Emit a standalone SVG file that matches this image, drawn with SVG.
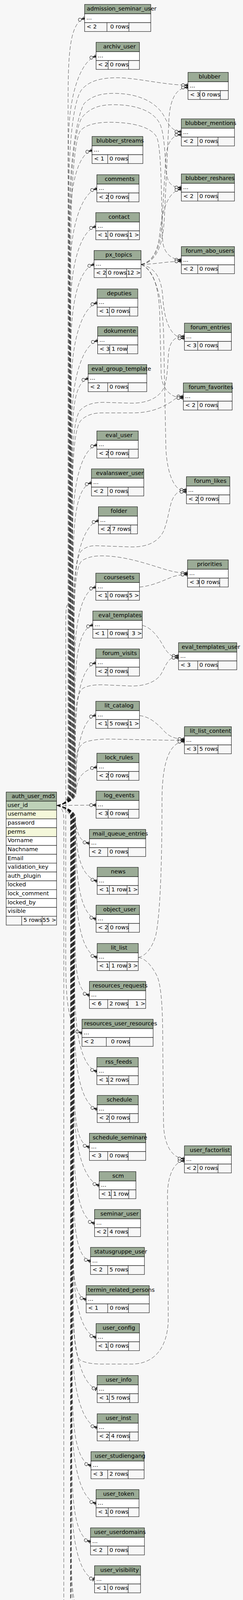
<svg xmlns="http://www.w3.org/2000/svg" width="621" height="4792" viewBox="0 0 621 4792">
<style>
text{font-family:"DejaVu Sans","Liberation Sans",sans-serif;font-size:14.5px;fill:#000}
.r{text-anchor:end}
.hd{fill:#9bab96;stroke:#000;stroke-width:1}
.bd{fill:#fff;stroke:#000;stroke-width:1}
.ft{fill:#f7f7f7;stroke:#000;stroke-width:1}
.pk{fill:#bed1b8;stroke:#000;stroke-width:1}
.ix{fill:#f4f7da;stroke:#000;stroke-width:1}
.dv{fill:none;stroke:#000;stroke-width:1}
#edges path{fill:none;stroke:#000;stroke-width:.7;stroke-dasharray:10 5;marker-end:url(#crow)}
#edges path.zo{marker-end:url(#tee)}
</style>
<defs>
<marker id="crow" markerUnits="userSpaceOnUse" orient="auto" overflow="visible" refX="0" refY="0" markerWidth="20" markerHeight="12" viewBox="-18 -6 20 12">
<path d="M-8.5,0H0M-8.5,0L0,-4.5M-8.5,0L0,4.5" fill="none" stroke="#000" stroke-width="1" stroke-dasharray="none"/>
<path d="M-8.5,0L0,-2.2L0,2.2Z" fill="#000" stroke="none"/>
<circle cx="-12.5" cy="0" r="4" fill="#f7f7f7" stroke="#000" stroke-width="1" stroke-dasharray="none"/>
</marker>
<marker id="tee" markerUnits="userSpaceOnUse" orient="auto" overflow="visible" refX="0" refY="0" markerWidth="20" markerHeight="12" viewBox="-18 -6 20 12">
<path d="M-9,0H0" fill="none" stroke="#000" stroke-width="1" stroke-dasharray="none"/>
<path d="M-3,-5V5" fill="none" stroke="#000" stroke-width="2" stroke-dasharray="none"/>
<circle cx="-9.5" cy="0" r="4" fill="#f7f7f7" stroke="#000" stroke-width="1" stroke-dasharray="none"/>
</marker>
</defs>
<rect x="0" y="0" width="621" height="4792" fill="#f7f7f7"/>

<g id="edges">
<path d="M145,2062C162,2060 174,2050 174,2030L174,266.8C174,146.8 176.2,58.8 216.2,46.8"/>
<path d="M145,2062C162,2060 175.1,2050 175.1,2030L175.1,363.8C175.1,243.8 205.5,155.8 245.5,143.8"/>
<path d="M145,2062C162,2060 175.9,2050 175.9,2030L175.9,500C175.9,350 190,250 210,228C230,206 260,199 300,199C350,199 420,218 480.4,218"/>
<path d="M145,2062C162,2060 177.2,2050 177.2,2030L177.2,560C177.2,420 195,300 215,265C235,245 260,239 290,239C360,239 400,265 418,295C430,318 440,337 463.4,337"/>
<path d="M145,2062C162,2060 177.7,2050 177.7,2030L177.7,604.8C177.7,484.8 195.2,396.8 235.2,384.8"/>
<path d="M145,2062C162,2060 178.7,2050 178.7,2030L178.7,600C178.7,450 190,330 210,300C230,276 255,268 290,268C350,268 395,285 410,320C425,360 420,440 430,462C437,476 448,480 463.4,480"/>
<path d="M145,2062C162,2060 178.8,2050 178.8,2030L178.8,702.8C178.8,582.8 207.5,494.8 247.5,482.8"/>
<path d="M145,2062C162,2060 179.8,2050 179.8,2030L179.8,799.8C179.8,679.8 204.8,591.8 244.8,579.8"/>
<path d="M145,2062C162,2060 180.8,2050 180.8,2030L180.8,650C180.8,480 190,360 205,335C220,318 250,313 280,313C340,313 385,325 400,350C415,380 412,560 416,620C420,650 440,665 463.4,665"/>
<path d="M145,2062C162,2060 180.9,2050 180.9,2030L180.9,896.8C180.9,776.8 200.4,688.8 240.4,676.8"/>
<path d="M145,2062C162,2060 182,2050 182,2030L182,995.2C182,875.2 208.3,787.2 248.3,775.2"/>
<path d="M145,2062C162,2060 183,2050 183,2030L183,1091.8C183,971.8 209.5,883.8 249.5,871.8"/>
<path d="M145,2062C162,2060 184.7,2050 184.7,2030L184.7,1250C184.7,1130 190,1070 205,1050C220,1035 240,1030 265,1030L330,1032C380,1034 410,1015 420,990C430,960 428,920 432,895C437,870 450,861 471.3,861"/>
<path d="M145,2062C162,2060 184.1,2050 184.1,2030L184.1,1188.8C184.1,1068.8 185.3,980.8 225.3,968.8"/>
<path d="M145,2062C162,2060 185,2050 185,2030L185,1280C185,1160 192,1090 208,1075C222,1062 240,1057 260,1057L340,1057C390,1057 420,1040 440,1027C450,1019 455,1015 468.5,1015"/>
<path d="M145,2062C162,2060 185.9,2050 185.9,2030L185.9,1358.8C185.9,1238.8 207.5,1150.8 247.5,1138.8"/>
<path d="M145,2062C162,2060 187,2050 187,2030L187,1455.8C187,1335.8 193.7,1247.8 233.7,1235.8"/>
<path d="M145,2062C162,2060 188.7,2050 188.7,2030L188.7,1600C188.7,1480 195,1425 208,1410C220,1400 230,1397 245,1397L330,1400C380,1402 405,1385 418,1360C430,1330 432,1300 440,1280C448,1262 460,1254 476.4,1254"/>
<path d="M145,2062C162,2060 188,2050 188,2030L188,1552.8C188,1432.8 211.5,1344.8 251.5,1332.8"/>
<path d="M145,2062C162,2060 189,2050 189,2030L189,1620C189,1500 196,1445 210,1435C225,1426 240,1423 260,1423C320,1423 380,1445 420,1457C440,1463 455,1467 479.2,1467"/>
<path d="M145,2062C162,2060 189.9,2050 189.9,2030L189.9,1722.8C189.9,1602.8 204.8,1514.8 244.8,1502.8"/>
<path d="M145,2062C162,2060 191,2050 191,2030L191,1819.8C191,1699.8 197.2,1611.8 237.2,1599.8"/>
<path d="M145,2062C162,2060 192.6,2050 192.6,2030L192.6,1850C192.6,1800 200,1770 212,1762C225,1755 240,1753 260,1753L330,1756C370,1758 400,1745 412,1725C422,1708 430,1679 456.2,1679"/>
<path d="M145,2062C162,2060 192,2050 192,2030L192,1916.8C192,1796.8 204.8,1708.8 244.8,1696.8"/>
<path d="M145,2062C165,2058 193.5,2048 193.5,2015C193.5,1935 204.8,1842.8 244.8,1830.8"/>
<path d="M145,2062C162,2060 194.5,2050 194.5,2030L194.5,1950C194.5,1920 205,1905 220,1899C240,1893 260,1892 280,1892L430,1895C445,1895 458,1895 471.3,1895"/>
<path d="M145,2062C170,2056 194,2040 196,2015C198,1990 215,1970 247.5,1963.8"/>
<path d="M145,2062L245.5,2061"/>
<path d="M145,2062C172,2068 190,2100 197,2125C202,2142 208,2155 228.5,2158.8"/>
<path d="M145,2062C165,2066 194.6,2085 194.6,2120C194.6,2190 208.3,2243.8 248.3,2255.8"/>
<path d="M145,2062C162,2064 193.2,2074 193.2,2094L193.2,2132.8C193.2,2252.8 205.5,2340.8 245.5,2352.8"/>
<path d="M145,2062C162,2064 192.6,2074 192.6,2094L192.6,2230.8C192.6,2350.8 208.3,2438.8 248.3,2450.8"/>
<path d="M145,2062C162,2064 192,2074 192,2094L192,2327.8C192,2447.8 188.5,2535.8 228.5,2547.8"/>
<path d="M145,2062C162,2058 189,2045 189,2020L190,1640C190,1575 178,1540 171,1550C167,1560 168,1600 168,1660L168,2430C168,2545 170,2632 209.5,2644.8"/>
<path d="M145,2062C162,2064 190.9,2074 190.9,2094L190.9,2522.8C190.9,2642.8 207.5,2730.8 247.5,2742.8"/>
<path d="M145,2062C162,2064 190.3,2074 190.3,2094L190.3,2619.8C190.3,2739.8 208.3,2827.8 248.3,2839.8"/>
<path d="M145,2062C162,2064 189.7,2074 189.7,2094L189.7,2716.8C189.7,2836.8 188.5,2924.8 228.5,2936.8"/>
<path d="M145,2062C162,2064 187,2074 187,2094L187,3300C187,3420 192,3470 205,3482C220,3490 240,3492 260,3492L340,3492C395,3490 428,3450 430,3380L428,3060C428,3010 445,2972 471.3,2972"/>
<path d="M145,2062C162,2064 189.1,2074 189.1,2094L189.1,2814.8C189.1,2934.8 213.5,3022.8 253.5,3034.8"/>
<path d="M145,2062C162,2064 188.5,2074 188.5,2094L188.5,2911.8C188.5,3031.8 201.6,3119.8 241.6,3131.8"/>
<path d="M145,2062C162,2064 187.9,2074 187.9,2094L187.9,3008.8C187.9,3128.8 191.3,3216.8 231.3,3228.8"/>
<path d="M145,2062C162,2064 187.3,2074 187.3,2094L187.3,3106.8C187.3,3226.8 180.2,3314.8 220.2,3326.8"/>
<path d="M145,2062C162,2064 186.7,2074 186.7,2094L186.7,3203.8C186.7,3323.8 205.5,3411.8 245.5,3423.8"/>
<path class="zo" d="M145,2062C162,2064 185.9,2074 185.9,2094L185.9,3336.8C185.9,3456.8 208.3,3544.8 248.3,3556.8"/>
<path d="M145,2062C162,2064 185.3,2074 185.3,2094L185.3,3434.8C185.3,3554.8 208.3,3642.8 248.3,3654.8"/>
<path d="M145,2062C162,2064 184.7,2074 184.7,2094L184.7,3531.8C184.7,3651.8 192.5,3739.8 232.5,3751.8"/>
<path d="M145,2062C162,2064 184.1,2074 184.1,2094L184.1,3628.8C184.1,3748.8 205.5,3836.8 245.5,3848.8"/>
<path d="M145,2062C162,2064 183.6,2074 183.6,2094L183.6,3726.8C183.6,3846.8 191.3,3934.8 231.3,3946.8"/>
<path class="zo" d="M145,2062C162,2064 183,2074 183,2094L183,3823.8C183,3943.8 201.6,4031.8 241.6,4043.8"/>
<path d="M145,2062C162,2064 182.4,2074 182.4,2094L182.4,3920.8C182.4,4040.8 179.4,4128.8 219.4,4140.8"/>
<path d="M145,2062C162,2064 181.8,2074 181.8,2094L181.8,4018.8C181.8,4138.8 207.5,4226.8 247.5,4238.8"/>
<path d="M145,2062C162,2064 181.2,2074 181.2,2094L181.2,4115.8C181.2,4235.8 207.5,4323.8 247.5,4335.8"/>
<path d="M145,2062C162,2064 180.6,2074 180.6,2094L180.6,4212.8C180.6,4332.8 191.3,4420.8 231.3,4432.8"/>
<path d="M145,2062C162,2064 180,2074 180,2094L180,4310.8C180,4430.8 211.5,4518.8 251.5,4530.8"/>
<path d="M145,2062C160,2066 163,2080 163,2100L163,4380C163.5,4480 178,4585 212.7,4630"/>
<path d="M360.4,677C395,672 415,640 420,560L432,300C436,250 452,224 480.4,224"/>
<path d="M360.4,677C392,672 410,640 414,570L424,400C428,365 440,345 463.4,345"/>
<path d="M360.4,677C390,670 404,640 408,600C414,540 428,490 463.4,484"/>
<path d="M360.4,677C400,676 430,669 463.4,669"/>
<path d="M360.4,677C392,684 412,705 416,760C420,830 440,866 471.3,866"/>
<path d="M360.4,677C390,688 405,730 408,800L412,960C415,1000 440,1019 468.5,1019"/>
<path d="M360.4,677C392,690 414,750 418,850L424,1150C428,1220 448,1259 476.4,1259"/>
<path d="M356.4,1503C390,1500 420,1485 440,1477C455,1472 465,1471 479.2,1471"/>
<path d="M363.6,1601C385,1605 405,1630 418,1655C428,1672 440,1684 456.2,1684"/>
<path d="M356.4,1832C380,1834 400,1850 418,1870C430,1884 445,1892 471.3,1892"/>
<path d="M353.3,2451C370,2448 388,2430 398,2395C410,2340 414,2200 414,2050C414,1960 430,1900 471.3,1898"/>
<path d="M353.3,2451C372,2453 390,2475 402,2500C414,2530 416,2600 416,2680L418,2880C420,2935 442,2966 471.3,2966"/>
</g>

<g id="admission_seminar_user"><rect class="hd" x="216.2" y="11.3" width="169.1" height="24"/><rect class="bd" x="216.2" y="35.3" width="169.1" height="22.7"/><rect class="ft" x="216.2" y="58" width="169.1" height="22.7"/><path class="dv" d="M273.3 58V80.7M329.5 58V80.7"/><text x="221.8" y="27.1">admission_seminar_user</text><text x="220.7" y="49.8">...</text><text x="221.2" y="72.5">&lt; 2</text><text class="r" x="329.5" y="72.5">0 rows</text></g>
<g id="archiv_user"><rect class="hd" x="245.5" y="108.3" width="110.9" height="24"/><rect class="bd" x="245.5" y="132.3" width="110.9" height="22.7"/><rect class="ft" x="245.5" y="155" width="110.9" height="22.7"/><path class="dv" d="M276.4 155V177.7M328.7 155V177.7"/><text x="263.8" y="124.1">archiv_user</text><text x="250" y="146.8">...</text><text x="250.5" y="169.5">&lt; 2</text><text class="r" x="328.7" y="169.5">0 rows</text></g>
<g id="blubber"><rect class="hd" x="480.4" y="185.3" width="103" height="24"/><rect class="bd" x="480.4" y="209.3" width="103" height="22.7"/><rect class="ft" x="480.4" y="232" width="103" height="22.7"/><path class="dv" d="M511.3 232V254.7M563.2 232V254.7"/><text x="507.7" y="201.1">blubber</text><text x="484.9" y="223.8">...</text><text x="485.4" y="246.5">&lt; 3</text><text class="r" x="563.2" y="246.5">0 rows</text></g>
<g id="blubber_mentions"><rect class="hd" x="463.4" y="304.3" width="135.8" height="24"/><rect class="bd" x="463.4" y="328.3" width="135.8" height="22.7"/><rect class="ft" x="463.4" y="351" width="135.8" height="22.7"/><path class="dv" d="M505.3 351V373.7M557.2 351V373.7"/><text x="473.3" y="320.1">blubber_mentions</text><text x="467.9" y="342.8">...</text><text x="468.4" y="365.5">&lt; 2</text><text class="r" x="557.2" y="365.5">0 rows</text></g>
<g id="blubber_streams"><rect class="hd" x="235.2" y="349.3" width="129.9" height="24"/><rect class="bd" x="235.2" y="373.3" width="129.9" height="22.7"/><rect class="ft" x="235.2" y="396" width="129.9" height="22.7"/><path class="dv" d="M275.2 396V418.7M327.5 396V418.7"/><text x="246.3" y="365.1">blubber_streams</text><text x="239.7" y="387.8">...</text><text x="240.2" y="410.5">&lt; 1</text><text class="r" x="327.5" y="410.5">0 rows</text></g>
<g id="comments"><rect class="hd" x="247.5" y="447.3" width="107.7" height="24"/><rect class="bd" x="247.5" y="471.3" width="107.7" height="22.7"/><rect class="ft" x="247.5" y="494" width="107.7" height="22.7"/><path class="dv" d="M277.6 494V516.7M329.1 494V516.7"/><text x="267.7" y="463.1">comments</text><text x="252" y="485.8">...</text><text x="252.5" y="508.5">&lt; 2</text><text class="r" x="329.1" y="508.5">0 rows</text></g>
<g id="blubber_reshares"><rect class="hd" x="463.4" y="445.3" width="135.8" height="24"/><rect class="bd" x="463.4" y="469.3" width="135.8" height="22.7"/><rect class="ft" x="463.4" y="492" width="135.8" height="22.7"/><path class="dv" d="M505.3 492V514.7M557.2 492V514.7"/><text x="474.1" y="461.1">blubber_reshares</text><text x="467.9" y="483.8">...</text><text x="468.4" y="506.5">&lt; 2</text><text class="r" x="557.2" y="506.5">0 rows</text></g>
<g id="contact"><rect class="hd" x="244.8" y="544.3" width="111.6" height="24"/><rect class="bd" x="244.8" y="568.3" width="111.6" height="22.7"/><rect class="ft" x="244.8" y="591" width="111.6" height="22.7"/><path class="dv" d="M275.6 591V613.7M327.5 591V613.7"/><text x="277.2" y="560.1">contact</text><text x="249.3" y="582.8">...</text><text x="249.8" y="605.5">&lt; 1</text><text class="r" x="327.5" y="605.5">0 rows</text><text class="r" x="355.6" y="605.5">1 &gt;</text></g>
<g id="px_topics"><rect class="hd" x="240.4" y="641.3" width="120" height="24"/><rect class="bd" x="240.4" y="665.3" width="120" height="22.7"/><rect class="ft" x="240.4" y="688" width="120" height="22.7"/><path class="dv" d="M271.7 688V710.7M323.6 688V710.7"/><text x="269.3" y="657.1">px_topics</text><text x="244.9" y="679.8">...</text><text x="245.4" y="702.5">&lt; 2</text><text class="r" x="323.6" y="702.5">0 rows</text><text class="r" x="359.6" y="702.5">12 &gt;</text></g>
<g id="forum_abo_users"><rect class="hd" x="463.4" y="631.3" width="135.8" height="24"/><rect class="bd" x="463.4" y="655.3" width="135.8" height="22.7"/><rect class="ft" x="463.4" y="678" width="135.8" height="22.7"/><path class="dv" d="M505.3 678V700.7M557.2 678V700.7"/><text x="474.5" y="647.1">forum_abo_users</text><text x="467.9" y="669.8">...</text><text x="468.4" y="692.5">&lt; 2</text><text class="r" x="557.2" y="692.5">0 rows</text></g>
<g id="deputies"><rect class="hd" x="248.3" y="739.7" width="103.8" height="24"/><rect class="bd" x="248.3" y="763.7" width="103.8" height="22.7"/><rect class="ft" x="248.3" y="786.4" width="103.8" height="22.7"/><path class="dv" d="M279.6 786.4V809.1M331.5 786.4V809.1"/><text x="273.3" y="755.5">deputies</text><text x="252.8" y="778.2">...</text><text x="253.3" y="800.9">&lt; 1</text><text class="r" x="331.5" y="800.9">0 rows</text></g>
<g id="dokumente"><rect class="hd" x="249.5" y="836.3" width="102.6" height="24"/><rect class="bd" x="249.5" y="860.3" width="102.6" height="22.7"/><rect class="ft" x="249.5" y="883" width="102.6" height="22.7"/><path class="dv" d="M280.4 883V905.7M325.5 883V905.7"/><text x="265.3" y="852.1">dokumente</text><text x="254" y="874.8">...</text><text x="254.5" y="897.5">&lt; 3</text><text class="r" x="325.5" y="897.5">1 row</text></g>
<g id="forum_entries"><rect class="hd" x="471.3" y="827.3" width="120" height="24"/><rect class="bd" x="471.3" y="851.3" width="120" height="22.7"/><rect class="ft" x="471.3" y="874" width="120" height="22.7"/><path class="dv" d="M505.3 874V896.7M557.2 874V896.7"/><text x="486.7" y="843.1">forum_entries</text><text x="475.8" y="865.8">...</text><text x="476.3" y="888.5">&lt; 3</text><text class="r" x="557.2" y="888.5">0 rows</text></g>
<g id="eval_group_template"><rect class="hd" x="225.3" y="933.3" width="149.7" height="24"/><rect class="bd" x="225.3" y="957.3" width="149.7" height="22.7"/><rect class="ft" x="225.3" y="980" width="149.7" height="22.7"/><path class="dv" d="M275.2 980V1002.7M327.5 980V1002.7"/><text x="233.7" y="949.1">eval_group_template</text><text x="229.8" y="971.8">...</text><text x="230.3" y="994.5">&lt; 2</text><text class="r" x="327.5" y="994.5">0 rows</text></g>
<g id="forum_favorites"><rect class="hd" x="468.5" y="980.3" width="124.8" height="24"/><rect class="bd" x="468.5" y="1004.3" width="124.8" height="22.7"/><rect class="ft" x="468.5" y="1027" width="124.8" height="22.7"/><path class="dv" d="M505.3 1027V1049.7M557.2 1027V1049.7"/><text x="482" y="996.1">forum_favorites</text><text x="473" y="1018.8">...</text><text x="473.5" y="1041.5">&lt; 2</text><text class="r" x="557.2" y="1041.5">0 rows</text></g>
<g id="eval_user"><rect class="hd" x="247.5" y="1103.3" width="105.8" height="24"/><rect class="bd" x="247.5" y="1127.3" width="105.8" height="22.7"/><rect class="ft" x="247.5" y="1150" width="105.8" height="22.7"/><path class="dv" d="M277.6 1150V1172.7M329.1 1150V1172.7"/><text x="269.7" y="1119.1">eval_user</text><text x="252" y="1141.8">...</text><text x="252.5" y="1164.5">&lt; 2</text><text class="r" x="329.1" y="1164.5">0 rows</text></g>
<g id="evalanswer_user"><rect class="hd" x="233.7" y="1200.3" width="133.8" height="24"/><rect class="bd" x="233.7" y="1224.3" width="133.8" height="22.7"/><rect class="ft" x="233.7" y="1247" width="133.8" height="22.7"/><path class="dv" d="M275.2 1247V1269.7M327.5 1247V1269.7"/><text x="245.5" y="1216.1">evalanswer_user</text><text x="238.2" y="1238.8">...</text><text x="238.7" y="1261.5">&lt; 2</text><text class="r" x="327.5" y="1261.5">0 rows</text></g>
<g id="forum_likes"><rect class="hd" x="476.4" y="1220.3" width="110.9" height="24"/><rect class="bd" x="476.4" y="1244.3" width="110.9" height="22.7"/><rect class="ft" x="476.4" y="1267" width="110.9" height="22.7"/><path class="dv" d="M507.3 1267V1289.7M559.2 1267V1289.7"/><text x="495.8" y="1236.1">forum_likes</text><text x="480.9" y="1258.8">...</text><text x="481.4" y="1281.5">&lt; 2</text><text class="r" x="559.2" y="1281.5">0 rows</text></g>
<g id="folder"><rect class="hd" x="251.5" y="1297.3" width="99.8" height="24"/><rect class="bd" x="251.5" y="1321.3" width="99.8" height="22.7"/><rect class="ft" x="251.5" y="1344" width="99.8" height="22.7"/><path class="dv" d="M281.6 1344V1366.7M333.9 1344V1366.7"/><text x="282.8" y="1313.1">folder</text><text x="256" y="1335.8">...</text><text x="256.5" y="1358.5">&lt; 2</text><text class="r" x="333.9" y="1358.5">7 rows</text></g>
<g id="priorities"><rect class="hd" x="479.2" y="1433.3" width="104.2" height="24"/><rect class="bd" x="479.2" y="1457.3" width="104.2" height="22.7"/><rect class="ft" x="479.2" y="1480" width="104.2" height="22.7"/><path class="dv" d="M509.7 1480V1502.7M561.6 1480V1502.7"/><text x="503.4" y="1449.1">priorities</text><text x="483.7" y="1471.8">...</text><text x="484.2" y="1494.5">&lt; 3</text><text class="r" x="561.6" y="1494.5">0 rows</text></g>
<g id="coursesets"><rect class="hd" x="244.8" y="1467.3" width="111.6" height="24"/><rect class="bd" x="244.8" y="1491.3" width="111.6" height="22.7"/><rect class="ft" x="244.8" y="1514" width="111.6" height="22.7"/><path class="dv" d="M275.6 1514V1536.7M327.5 1514V1536.7"/><text x="265.3" y="1483.1">coursesets</text><text x="249.3" y="1505.8">...</text><text x="249.8" y="1528.5">&lt; 1</text><text class="r" x="327.5" y="1528.5">0 rows</text><text class="r" x="355.6" y="1528.5">5 &gt;</text></g>
<g id="eval_templates"><rect class="hd" x="237.2" y="1564.3" width="126.4" height="24"/><rect class="bd" x="237.2" y="1588.3" width="126.4" height="22.7"/><rect class="ft" x="237.2" y="1611" width="126.4" height="22.7"/><path class="dv" d="M275.2 1611V1633.7M327.5 1611V1633.7"/><text x="251.5" y="1580.1">eval_templates</text><text x="241.7" y="1602.8">...</text><text x="242.2" y="1625.5">&lt; 1</text><text class="r" x="327.5" y="1625.5">0 rows</text><text class="r" x="362.8" y="1625.5">3 &gt;</text></g>
<g id="eval_templates_user"><rect class="hd" x="456.2" y="1645.3" width="148.9" height="24"/><rect class="bd" x="456.2" y="1669.3" width="148.9" height="22.7"/><rect class="ft" x="456.2" y="1692" width="148.9" height="22.7"/><path class="dv" d="M505.3 1692V1714.7M557.2 1692V1714.7"/><text x="464.2" y="1661.1">eval_templates_user</text><text x="460.7" y="1683.8">...</text><text x="461.2" y="1706.5">&lt; 3</text><text class="r" x="557.2" y="1706.5">0 rows</text></g>
<g id="forum_visits"><rect class="hd" x="244.8" y="1661.3" width="111.6" height="24"/><rect class="bd" x="244.8" y="1685.3" width="111.6" height="22.7"/><rect class="ft" x="244.8" y="1708" width="111.6" height="22.7"/><path class="dv" d="M275.6 1708V1730.7M327.5 1708V1730.7"/><text x="261.8" y="1677.1">forum_visits</text><text x="249.3" y="1699.8">...</text><text x="249.8" y="1722.5">&lt; 2</text><text class="r" x="327.5" y="1722.5">0 rows</text></g>
<g id="lit_catalog"><rect class="hd" x="244.8" y="1795.3" width="111.6" height="24"/><rect class="bd" x="244.8" y="1819.3" width="111.6" height="22.7"/><rect class="ft" x="244.8" y="1842" width="111.6" height="22.7"/><path class="dv" d="M275.6 1842V1864.7M327.5 1842V1864.7"/><text x="266.9" y="1811.1">lit_catalog</text><text x="249.3" y="1833.8">...</text><text x="249.8" y="1856.5">&lt; 1</text><text class="r" x="327.5" y="1856.5">5 rows</text><text class="r" x="355.6" y="1856.5">1 &gt;</text></g>
<g id="lit_list_content"><rect class="hd" x="471.3" y="1860.3" width="120" height="24"/><rect class="bd" x="471.3" y="1884.3" width="120" height="22.7"/><rect class="ft" x="471.3" y="1907" width="120" height="22.7"/><path class="dv" d="M505.3 1907V1929.7M557.2 1907V1929.7"/><text x="485.1" y="1876.1">lit_list_content</text><text x="475.8" y="1898.8">...</text><text x="476.3" y="1921.5">&lt; 3</text><text class="r" x="557.2" y="1921.5">5 rows</text></g>
<g id="lock_rules"><rect class="hd" x="247.5" y="1928.3" width="107.7" height="24"/><rect class="bd" x="247.5" y="1952.3" width="107.7" height="22.7"/><rect class="ft" x="247.5" y="1975" width="107.7" height="22.7"/><path class="dv" d="M277.6 1975V1997.7M329.1 1975V1997.7"/><text x="268.1" y="1944.1">lock_rules</text><text x="252" y="1966.8">...</text><text x="252.5" y="1989.5">&lt; 2</text><text class="r" x="329.1" y="1989.5">0 rows</text></g>
<g id="log_events"><rect class="hd" x="245.5" y="2025.3" width="109.7" height="24"/><rect class="bd" x="245.5" y="2049.3" width="109.7" height="22.7"/><rect class="ft" x="245.5" y="2072" width="109.7" height="22.7"/><path class="dv" d="M276.4 2072V2094.7M328.3 2072V2094.7"/><text x="265.3" y="2041.1">log_events</text><text x="250" y="2063.8">...</text><text x="250.5" y="2086.5">&lt; 3</text><text class="r" x="328.3" y="2086.5">0 rows</text></g>
<g id="mail_queue_entries"><rect class="hd" x="228.5" y="2123.3" width="143.8" height="24"/><rect class="bd" x="228.5" y="2147.3" width="143.8" height="22.7"/><rect class="ft" x="228.5" y="2170" width="143.8" height="22.7"/><path class="dv" d="M275.2 2170V2192.7M327.5 2170V2192.7"/><text x="236.8" y="2139.1">mail_queue_entries</text><text x="233" y="2161.8">...</text><text x="233.5" y="2184.5">&lt; 2</text><text class="r" x="327.5" y="2184.5">0 rows</text></g>
<g id="news"><rect class="hd" x="248.3" y="2220.3" width="105" height="24"/><rect class="bd" x="248.3" y="2244.3" width="105" height="22.7"/><rect class="ft" x="248.3" y="2267" width="105" height="22.7"/><path class="dv" d="M279.6 2267V2289.7M324.8 2267V2289.7"/><text x="283.2" y="2236.1">news</text><text x="252.8" y="2258.8">...</text><text x="253.3" y="2281.5">&lt; 1</text><text class="r" x="324.8" y="2281.5">1 row</text><text class="r" x="352.5" y="2281.5">1 &gt;</text></g>
<g id="object_user"><rect class="hd" x="245.5" y="2317.3" width="110.9" height="24"/><rect class="bd" x="245.5" y="2341.3" width="110.9" height="22.7"/><rect class="ft" x="245.5" y="2364" width="110.9" height="22.7"/><path class="dv" d="M276.4 2364V2386.7M328.7 2364V2386.7"/><text x="263.8" y="2333.1">object_user</text><text x="250" y="2355.8">...</text><text x="250.5" y="2378.5">&lt; 2</text><text class="r" x="328.7" y="2378.5">0 rows</text></g>
<g id="lit_list"><rect class="hd" x="248.3" y="2415.3" width="105" height="24"/><rect class="bd" x="248.3" y="2439.3" width="105" height="22.7"/><rect class="ft" x="248.3" y="2462" width="105" height="22.7"/><path class="dv" d="M279.6 2462V2484.7M324.8 2462V2484.7"/><text x="283.2" y="2431.1">lit_list</text><text x="252.8" y="2453.8">...</text><text x="253.3" y="2476.5">&lt; 1</text><text class="r" x="324.8" y="2476.5">1 row</text><text class="r" x="352.5" y="2476.5">3 &gt;</text></g>
<g id="resources_requests"><rect class="hd" x="228.5" y="2512.3" width="143.8" height="24"/><rect class="bd" x="228.5" y="2536.3" width="143.8" height="22.7"/><rect class="ft" x="228.5" y="2559" width="143.8" height="22.7"/><path class="dv" d="M275.2 2559V2581.7M327.5 2559V2581.7"/><text x="236.8" y="2528.1">resources_requests</text><text x="233" y="2550.8">...</text><text x="233.5" y="2573.5">&lt; 6</text><text class="r" x="327.5" y="2573.5">2 rows</text><text class="r" x="371.5" y="2573.5">1 &gt;</text></g>
<g id="resources_user_resources"><rect class="hd" x="209.5" y="2609.3" width="181.8" height="24"/><rect class="bd" x="209.5" y="2633.3" width="181.8" height="22.7"/><rect class="ft" x="209.5" y="2656" width="181.8" height="22.7"/><path class="dv" d="M271.7 2656V2678.7M331.5 2656V2678.7"/><text x="215" y="2625.1">resources_user_resources</text><text x="214" y="2647.8">...</text><text x="214.5" y="2670.5">&lt; 2</text><text class="r" x="331.5" y="2670.5">0 rows</text></g>
<g id="rss_feeds"><rect class="hd" x="247.5" y="2707.3" width="105.8" height="24"/><rect class="bd" x="247.5" y="2731.3" width="105.8" height="22.7"/><rect class="ft" x="247.5" y="2754" width="105.8" height="22.7"/><path class="dv" d="M277.6 2754V2776.7M329.1 2754V2776.7"/><text x="269.3" y="2723.1">rss_feeds</text><text x="252" y="2745.8">...</text><text x="252.5" y="2768.5">&lt; 1</text><text class="r" x="329.1" y="2768.5">2 rows</text></g>
<g id="schedule"><rect class="hd" x="248.3" y="2804.3" width="105" height="24"/><rect class="bd" x="248.3" y="2828.3" width="105" height="22.7"/><rect class="ft" x="248.3" y="2851" width="105" height="22.7"/><path class="dv" d="M279.6 2851V2873.7M331.5 2851V2873.7"/><text x="272.5" y="2820.1">schedule</text><text x="252.8" y="2842.8">...</text><text x="253.3" y="2865.5">&lt; 2</text><text class="r" x="331.5" y="2865.5">0 rows</text></g>
<g id="schedule_seminare"><rect class="hd" x="228.5" y="2901.3" width="143.8" height="24"/><rect class="bd" x="228.5" y="2925.3" width="143.8" height="22.7"/><rect class="ft" x="228.5" y="2948" width="143.8" height="22.7"/><path class="dv" d="M275.2 2948V2970.7M327.5 2948V2970.7"/><text x="236.8" y="2917.1">schedule_seminare</text><text x="233" y="2939.8">...</text><text x="233.5" y="2962.5">&lt; 3</text><text class="r" x="327.5" y="2962.5">0 rows</text></g>
<g id="user_factorlist"><rect class="hd" x="471.3" y="2933.3" width="120" height="24"/><rect class="bd" x="471.3" y="2957.3" width="120" height="22.7"/><rect class="ft" x="471.3" y="2980" width="120" height="22.7"/><path class="dv" d="M505.3 2980V3002.7M557.2 2980V3002.7"/><text x="485.1" y="2949.1">user_factorlist</text><text x="475.8" y="2971.8">...</text><text x="476.3" y="2994.5">&lt; 2</text><text class="r" x="557.2" y="2994.5">0 rows</text></g>
<g id="scm"><rect class="hd" x="253.5" y="2999.3" width="93.8" height="24"/><rect class="bd" x="253.5" y="3023.3" width="93.8" height="22.7"/><rect class="ft" x="253.5" y="3046" width="93.8" height="22.7"/><path class="dv" d="M284.4 3046V3068.7M329.1 3046V3068.7"/><text x="287.1" y="3015.1">scm</text><text x="258" y="3037.8">...</text><text x="258.5" y="3060.5">&lt; 1</text><text class="r" x="329.1" y="3060.5">1 row</text></g>
<g id="seminar_user"><rect class="hd" x="241.6" y="3096.3" width="117.6" height="24"/><rect class="bd" x="241.6" y="3120.3" width="117.6" height="22.7"/><rect class="ft" x="241.6" y="3143" width="117.6" height="22.7"/><path class="dv" d="M275.2 3143V3165.7M327.5 3143V3165.7"/><text x="256.6" y="3112.1">seminar_user</text><text x="246.1" y="3134.8">...</text><text x="246.6" y="3157.5">&lt; 2</text><text class="r" x="327.5" y="3157.5">4 rows</text></g>
<g id="statusgruppe_user"><rect class="hd" x="231.3" y="3193.3" width="137.8" height="24"/><rect class="bd" x="231.3" y="3217.3" width="137.8" height="22.7"/><rect class="ft" x="231.3" y="3240" width="137.8" height="22.7"/><path class="dv" d="M275.2 3240V3262.7M327.5 3240V3262.7"/><text x="240.8" y="3209.1">statusgruppe_user</text><text x="235.8" y="3231.8">...</text><text x="236.3" y="3254.5">&lt; 2</text><text class="r" x="327.5" y="3254.5">5 rows</text></g>
<g id="termin_related_persons"><rect class="hd" x="220.2" y="3291.3" width="161.2" height="24"/><rect class="bd" x="220.2" y="3315.3" width="161.2" height="22.7"/><rect class="ft" x="220.2" y="3338" width="161.2" height="22.7"/><path class="dv" d="M275.2 3338V3360.7M328.3 3338V3360.7"/><text x="224.6" y="3307.1">termin_related_persons</text><text x="224.7" y="3329.8">...</text><text x="225.2" y="3352.5">&lt; 1</text><text class="r" x="328.3" y="3352.5">0 rows</text></g>
<g id="user_config"><rect class="hd" x="245.5" y="3388.3" width="110.9" height="24"/><rect class="bd" x="245.5" y="3412.3" width="110.9" height="22.7"/><rect class="ft" x="245.5" y="3435" width="110.9" height="22.7"/><path class="dv" d="M276.4 3435V3457.7M328.7 3435V3457.7"/><text x="262.2" y="3404.1">user_config</text><text x="250" y="3426.8">...</text><text x="250.5" y="3449.5">&lt; 1</text><text class="r" x="328.7" y="3449.5">0 rows</text></g>
<g id="user_info"><rect class="hd" x="248.3" y="3521.3" width="105" height="24"/><rect class="bd" x="248.3" y="3545.3" width="105" height="22.7"/><rect class="ft" x="248.3" y="3568" width="105" height="22.7"/><path class="dv" d="M279.6 3568V3590.7M331.5 3568V3590.7"/><text x="270.1" y="3537.1">user_info</text><text x="252.8" y="3559.8">...</text><text x="253.3" y="3582.5">&lt; 1</text><text class="r" x="331.5" y="3582.5">5 rows</text></g>
<g id="user_inst"><rect class="hd" x="248.3" y="3619.3" width="105" height="24"/><rect class="bd" x="248.3" y="3643.3" width="105" height="22.7"/><rect class="ft" x="248.3" y="3666" width="105" height="22.7"/><path class="dv" d="M279.6 3666V3688.7M331.5 3666V3688.7"/><text x="270.1" y="3635.1">user_inst</text><text x="252.8" y="3657.8">...</text><text x="253.3" y="3680.5">&lt; 2</text><text class="r" x="331.5" y="3680.5">4 rows</text></g>
<g id="user_studiengang"><rect class="hd" x="232.5" y="3716.3" width="135.8" height="24"/><rect class="bd" x="232.5" y="3740.3" width="135.8" height="22.7"/><rect class="ft" x="232.5" y="3763" width="135.8" height="22.7"/><path class="dv" d="M275.2 3763V3785.7M327.5 3763V3785.7"/><text x="242.4" y="3732.1">user_studiengang</text><text x="237" y="3754.8">...</text><text x="237.5" y="3777.5">&lt; 3</text><text class="r" x="327.5" y="3777.5">2 rows</text></g>
<g id="user_token"><rect class="hd" x="245.5" y="3813.3" width="109.7" height="24"/><rect class="bd" x="245.5" y="3837.3" width="109.7" height="22.7"/><rect class="ft" x="245.5" y="3860" width="109.7" height="22.7"/><path class="dv" d="M276.4 3860V3882.7M328.3 3860V3882.7"/><text x="263.4" y="3829.1">user_token</text><text x="250" y="3851.8">...</text><text x="250.5" y="3874.5">&lt; 1</text><text class="r" x="328.3" y="3874.5">0 rows</text></g>
<g id="user_userdomains"><rect class="hd" x="231.3" y="3911.3" width="137.8" height="24"/><rect class="bd" x="231.3" y="3935.3" width="137.8" height="22.7"/><rect class="ft" x="231.3" y="3958" width="137.8" height="22.7"/><path class="dv" d="M275.2 3958V3980.7M327.5 3958V3980.7"/><text x="240.4" y="3927.1">user_userdomains</text><text x="235.8" y="3949.8">...</text><text x="236.3" y="3972.5">&lt; 2</text><text class="r" x="327.5" y="3972.5">0 rows</text></g>
<g id="user_visibility"><rect class="hd" x="241.6" y="4008.3" width="117.6" height="24"/><rect class="bd" x="241.6" y="4032.3" width="117.6" height="22.7"/><rect class="ft" x="241.6" y="4055" width="117.6" height="22.7"/><path class="dv" d="M275.2 4055V4077.7M327.5 4055V4077.7"/><text x="256.2" y="4024.1">user_visibility</text><text x="246.1" y="4046.8">...</text><text x="246.6" y="4069.5">&lt; 1</text><text class="r" x="327.5" y="4069.5">0 rows</text></g>
<g id="user_visibility_settings"><rect class="hd" x="219.4" y="4105.3" width="162" height="24"/><rect class="bd" x="219.4" y="4129.3" width="162" height="22.7"/><rect class="ft" x="219.4" y="4152" width="162" height="22.7"/><path class="dv" d="M271.7 4152V4174.7M331.5 4152V4174.7"/><text x="228.1" y="4121.1">user_visibility_settings</text><text x="223.9" y="4143.8">...</text><text x="224.4" y="4166.5">&lt; 1</text><text class="r" x="331.5" y="4166.5">34 rows</text></g>
<g id="userlimits"><rect class="hd" x="247.5" y="4203.3" width="105.8" height="24"/><rect class="bd" x="247.5" y="4227.3" width="105.8" height="22.7"/><rect class="ft" x="247.5" y="4250" width="105.8" height="22.7"/><path class="dv" d="M277.6 4250V4272.7M329.1 4250V4272.7"/><text x="268.1" y="4219.1">userlimits</text><text x="252" y="4241.8">...</text><text x="252.5" y="4264.5">&lt; 2</text><text class="r" x="329.1" y="4264.5">0 rows</text></g>
<g id="vote_user"><rect class="hd" x="247.5" y="4300.3" width="105.8" height="24"/><rect class="bd" x="247.5" y="4324.3" width="105.8" height="22.7"/><rect class="ft" x="247.5" y="4347" width="105.8" height="22.7"/><path class="dv" d="M277.6 4347V4369.7M329.1 4347V4369.7"/><text x="268.1" y="4316.1">vote_user</text><text x="252" y="4338.8">...</text><text x="252.5" y="4361.5">&lt; 2</text><text class="r" x="329.1" y="4361.5">0 rows</text></g>
<g id="voteanswers_user"><rect class="hd" x="231.3" y="4397.3" width="137.8" height="24"/><rect class="bd" x="231.3" y="4421.3" width="137.8" height="22.7"/><rect class="ft" x="231.3" y="4444" width="137.8" height="22.7"/><path class="dv" d="M275.2 4444V4466.7M327.5 4444V4466.7"/><text x="240.8" y="4413.1">voteanswers_user</text><text x="235.8" y="4435.8">...</text><text x="236.3" y="4458.5">&lt; 2</text><text class="r" x="327.5" y="4458.5">0 rows</text></g>
<g id="wiki"><rect class="hd" x="251.5" y="4495.3" width="99.8" height="24"/><rect class="bd" x="251.5" y="4519.3" width="99.8" height="22.7"/><rect class="ft" x="251.5" y="4542" width="99.8" height="22.7"/><path class="dv" d="M281.6 4542V4564.7M333.9 4542V4564.7"/><text x="288.3" y="4511.1">wiki</text><text x="256" y="4533.8">...</text><text x="256.5" y="4556.5">&lt; 1</text><text class="r" x="333.9" y="4556.5">0 rows</text></g>

<g id="wiki_locks">
<rect x="211.3" y="4593.4" width="178.6" height="139.2" fill="#fff" stroke="#000" stroke-width="2.8"/>
<rect class="hd" x="212.7" y="4595.3" width="175.8" height="24"/>
<rect class="pk" x="212.7" y="4619.3" width="86.7" height="22"/><rect class="bd" x="299.4" y="4619.3" width="89.1" height="22"/>
<rect class="pk" x="212.7" y="4641.3" width="86.7" height="23"/><rect class="bd" x="299.4" y="4641.3" width="89.1" height="23"/>
<rect class="pk" x="212.7" y="4664.3" width="86.7" height="23"/><rect class="bd" x="299.4" y="4664.3" width="89.1" height="23"/>
<rect class="ix" x="212.7" y="4687.3" width="86.7" height="22"/><rect class="bd" x="299.4" y="4687.3" width="89.1" height="22"/>
<rect class="ft" x="212.7" y="4709.3" width="175.8" height="22.4"/>
<path class="dv" d="M247.5 4709.3V4731.7M299.4 4709.3V4731.7"/>
<text x="267.3" y="4611">wiki_locks</text>
<text x="215.5" y="4633.8">user_id</text><text x="303" y="4633.8">varchar[32]</text>
<text x="216.6" y="4655.8">range_id</text><text x="303" y="4655.8">varchar[32]</text>
<text x="216.6" y="4678.8">keyword</text><text x="303" y="4678.8">varchar[128]</text>
<text x="216.6" y="4701.8">chdate</text><text x="303" y="4701.8">int[10]</text>
<text x="217.4" y="4724">&lt; 1</text><text class="r" x="299.4" y="4724">0 rows</text><text class="r" x="387.5" y="4724">0 &gt;</text>
</g>

<g id="auth_user_md5">
<rect class="hd" x="15.8" y="2027.7" width="128.8" height="23.3"/>
<rect class="pk" x="15.8" y="2051" width="128.8" height="22.66"/>
<rect class="ix" x="15.8" y="2073.66" width="128.8" height="22.66"/>
<rect class="bd" x="15.8" y="2096.32" width="128.8" height="22.66"/>
<rect class="ix" x="15.8" y="2118.98" width="128.8" height="22.66"/>
<rect class="bd" x="15.8" y="2141.64" width="128.8" height="22.66"/>
<rect class="bd" x="15.8" y="2164.3" width="128.8" height="22.66"/>
<rect class="bd" x="15.8" y="2186.96" width="128.8" height="22.66"/>
<rect class="bd" x="15.8" y="2209.62" width="128.8" height="22.66"/>
<rect class="bd" x="15.8" y="2232.28" width="128.8" height="22.66"/>
<rect class="bd" x="15.8" y="2254.94" width="128.8" height="22.66"/>
<rect class="bd" x="15.8" y="2277.6" width="128.8" height="22.66"/>
<rect class="bd" x="15.8" y="2300.26" width="128.8" height="22.66"/>
<rect class="bd" x="15.8" y="2322.92" width="128.8" height="22.66"/>
<rect class="ft" x="15.8" y="2345.58" width="128.8" height="22.66"/>
<path class="dv" d="M55.4 2345.58V2368.24M107.7 2345.58V2368.24"/>
<text x="29.7" y="2043">auth_user_md5</text>
<text x="19" y="2065.5">user_id</text>
<text x="19.5" y="2088.2">username</text>
<text x="19.5" y="2110.8">password</text>
<text x="19.5" y="2133.5">perms</text>
<text x="19.5" y="2156.1">Vorname</text>
<text x="19.5" y="2178.8">Nachname</text>
<text x="19.5" y="2201.5">Email</text>
<text x="19.5" y="2224.1">validation_key</text>
<text x="19.5" y="2246.8">auth_plugin</text>
<text x="19.5" y="2269.4">locked</text>
<text x="19.5" y="2292.1">lock_comment</text>
<text x="19.5" y="2314.8">locked_by</text>
<text x="19.5" y="2337.4">visible</text>
<text class="r" x="107.7" y="2360.1">5 rows</text>
<text class="r" x="144" y="2360.1">55 &gt;</text>
</g>

<text x="16.6" y="4775.5">Generated by SchemaSpy</text>
</svg>
